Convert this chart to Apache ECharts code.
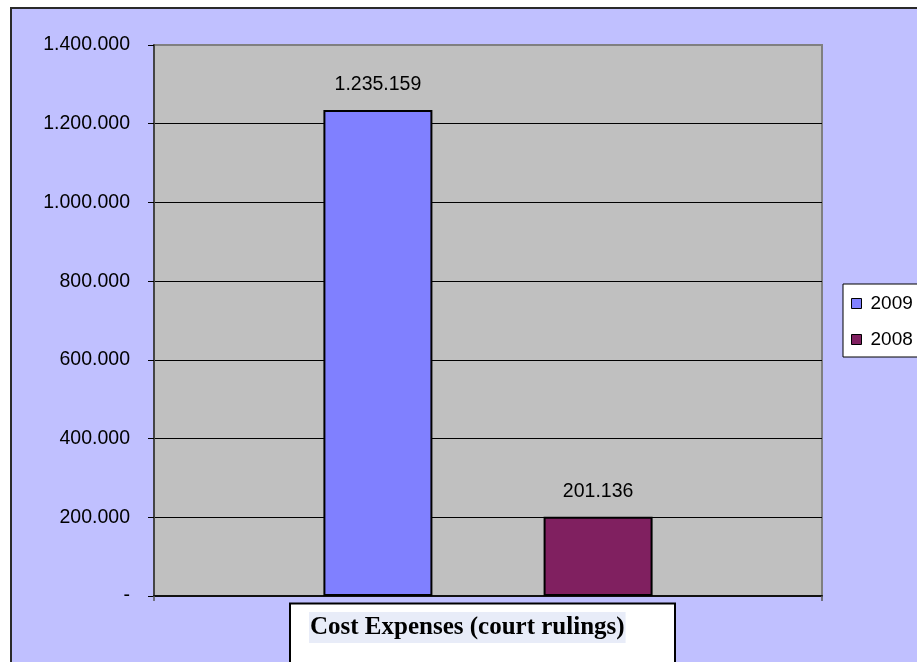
<!DOCTYPE html>
<html>
<head>
<meta charset="utf-8">
<script src="https://cdn.jsdelivr.net/npm/echarts@6/dist/echarts.min.js"></script>
<style>
  html, body { margin: 0; padding: 0; background: #ffffff; }
  #frame {
    position: absolute; left: 10px; top: 7px; width: 920px; height: 670px;
    background: #C0C0FF; border-left: 2px solid #2a2a2a; border-top: 2px solid #2a2a2a;
  }
  #chart { position: absolute; left: 0; top: 0; width: 917px; height: 662px; }
</style>
</head>
<body>
<div id="frame"></div>
<div id="chart"></div>
<script>
// Cost expenses from court rulings, 2009 vs 2008
const categories = ['Cost Expenses (court rulings)'];
const values2009 = [1235159];
const values2008 = [201136];
const yMin = 0;
const yMax = 1400000;
const yStep = 200000;

// thousands separated by dots; zero shown as a dash
function fmt(n) {
  if (n === 0) return '-';
  return String(n).replace(/\B(?=(\d{3})+(?!\d))/g, '.');
}

const chart = echarts.init(document.getElementById('chart'), null, { renderer: 'canvas' });
const sans = 'Liberation Sans, Arial, sans-serif';

chart.setOption({
  backgroundColor: 'transparent',
  animation: false,
  title: {
    text: categories[0],
    left: 309,
    top: 613,
    padding: [3, 1, 3, 1],
    backgroundColor: '#E8ECF8',
    textStyle: {
      fontFamily: 'Liberation Serif, Times New Roman, serif',
      fontWeight: 'bold',
      fontSize: 25,
      lineHeight: 23,
      color: '#000'
    }
  },
  graphic: [{
    type: 'rect',
    z: 1,
    shape: { x: 290, y: 603.5, width: 385, height: 80 },
    style: { fill: '#ffffff', stroke: '#000', lineWidth: 2 }
  }],
  legend: {
    orient: 'vertical',
    left: 843,
    top: 284,
    padding: [10, 30, 8, 8],
    backgroundColor: '#ffffff',
    borderColor: '#000',
    borderWidth: 1,
    borderRadius: 0,
    itemWidth: 10,
    itemHeight: 10,
    itemGap: 17,
    icon: 'rect',
    itemStyle: { borderColor: '#000', borderWidth: 1 },
    textStyle: { fontFamily: sans, fontSize: 19, color: '#000', padding: [0, 0, 0, 4] },
    data: ['2009', '2008']
  },
  grid: {
    left: 154, top: 45, right: 95, bottom: 66,
    show: true,
    backgroundColor: '#C0C0C0',
    borderColor: '#808080',
    borderWidth: 2
  },
  xAxis: {
    type: 'category',
    data: categories,
    axisLine: { show: true, lineStyle: { color: '#111', width: 2 } },
    axisTick: { show: true, length: 5, lineStyle: { color: '#555', width: 1.5 } },
    axisLabel: { show: false },
    splitLine: { show: false }
  },
  yAxis: {
    type: 'value',
    min: yMin,
    max: yMax,
    interval: yStep,
    axisLine: { show: true, lineStyle: { color: '#444', width: 2 } },
    axisTick: { show: true, length: 6, lineStyle: { color: '#000', width: 1 } },
    axisLabel: {
      margin: 24,
      fontFamily: sans,
      fontSize: 19.5,
      color: '#000',
      formatter: fmt
    },
    splitLine: { show: true, showMinLine: false, showMaxLine: false, lineStyle: { color: '#000', width: 1 } }
  },
  series: [
    {
      name: '2009',
      type: 'bar',
      data: values2009,
      barWidth: 109,
      barGap: '102%',
      itemStyle: { color: '#8080FF', borderColor: '#000', borderWidth: 2 },
      label: {
        show: true, position: 'top', distance: 15,
        fontFamily: sans, fontSize: 19.5, color: '#000',
        formatter: p => fmt(p.value)
      }
    },
    {
      name: '2008',
      type: 'bar',
      data: values2008,
      barWidth: 109,
      barGap: '102%',
      itemStyle: { color: '#802060', borderColor: '#000', borderWidth: 2 },
      label: {
        show: true, position: 'top', distance: 15,
        fontFamily: sans, fontSize: 19.5, color: '#000',
        formatter: p => fmt(p.value)
      }
    }
  ]
});
</script>
</body>
</html>
